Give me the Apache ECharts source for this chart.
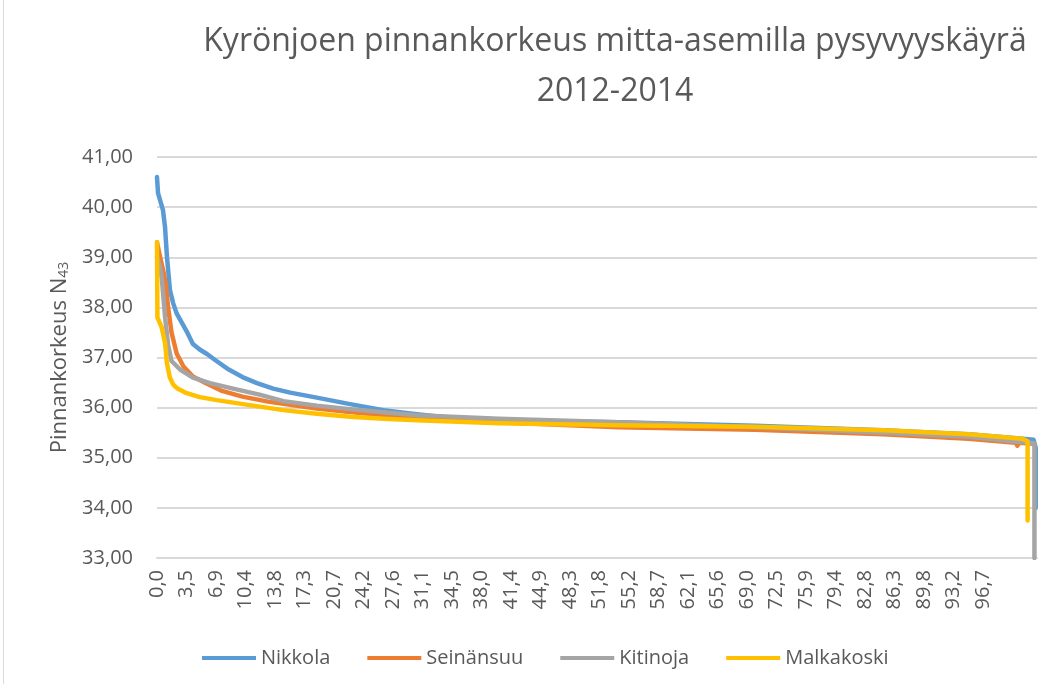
<!DOCTYPE html>
<html>
<head>
<meta charset="utf-8">
<script src="https://cdn.jsdelivr.net/npm/echarts@6/dist/echarts.min.js"></script>
<style>
  html, body { margin: 0; padding: 0; background: #fff; }
  #chart { width: 1054px; height: 684px; }
</style>
</head>
<body>
<div id="chart"></div>
<script>
// pysyvyys-% ja pinnankorkeus (N43), luettu kuvasta
const nikkola = [
  [0, 40.6], [0.12, 40.28], [0.7, 39.94], [0.94, 39.6], [1.17, 39.0], [1.52, 38.34],
  [1.9, 38.08], [2.3, 37.88], [2.95, 37.68], [3.6, 37.48], [4.2, 37.27], [5, 37.16],
  [5.85, 37.07], [6.8, 36.95], [8.4, 36.76], [10, 36.61], [11.7, 36.49], [13.6, 36.38],
  [15.6, 36.3], [18.7, 36.2], [22.6, 36.07], [26.5, 35.95], [30.4, 35.87], [34.3, 35.8],
  [40, 35.75], [54, 35.71], [70, 35.64], [85, 35.55], [95, 35.47], [101.3, 35.38],
  [102.6, 35.36], [102.85, 35.2], [102.85, 34.0]
];
const seinansuu = [
  [0, 39.3], [0.3, 39.05], [0.7, 38.75], [1.0, 38.5], [1.3, 38.0], [1.7, 37.5],
  [2.3, 37.08], [3.1, 36.82], [4.2, 36.62], [5.8, 36.48], [7.5, 36.34], [10, 36.22],
  [13, 36.12], [15, 36.07], [18.7, 35.98], [22.6, 35.91], [26.5, 35.85], [30.4, 35.79],
  [40, 35.71], [54, 35.61], [70, 35.56], [85, 35.47], [95, 35.38], [100.5, 35.3],
  [100.7, 35.24], [100.9, 35.3], [102.6, 35.28]
];
const kitinoja = [
  [0, 39.0], [0.3, 38.85], [0.55, 38.6], [0.95, 37.8], [1.3, 37.25], [1.7, 36.93],
  [2.7, 36.76], [4.2, 36.6], [6.2, 36.49], [8.9, 36.38], [12, 36.26], [14.8, 36.13],
  [18.7, 36.04], [22.6, 35.97], [26.5, 35.91], [30.4, 35.85], [40, 35.78], [54, 35.71],
  [70, 35.61], [85, 35.5], [95, 35.42], [101.3, 35.31], [102.7, 35.29], [102.7, 33.0]
];
const malkakoski = [
  [0, 39.3], [0.05, 37.8], [0.55, 37.6], [0.95, 37.28], [1.15, 36.9], [1.5, 36.6],
  [1.9, 36.46], [2.4, 36.38], [3.3, 36.3], [5, 36.21], [7, 36.15], [9.7, 36.08],
  [12, 36.02], [14.8, 35.95], [18.7, 35.88], [22.6, 35.82], [26.5, 35.78], [30.4, 35.75],
  [40, 35.69], [54, 35.65], [70, 35.62], [85, 35.55], [95, 35.47], [101.3, 35.38],
  [101.9, 35.33], [101.9, 33.75]
];

const seriesNames = ['Nikkola', 'Seinänsuu', 'Kitinoja', 'Malkakoski'];
const seriesColors = ['#5B9BD5', '#ED7D31', '#A5A5A5', '#FFC000'];

const xTicks = ['0,0', '3,5', '6,9', '10,4', '13,8', '17,3', '20,7', '24,2', '27,6', '31,1',
  '34,5', '38,0', '41,4', '44,9', '48,3', '51,8', '55,2', '58,7', '62,1', '65,6', '69,0',
  '72,5', '75,9', '79,4', '82,8', '86,3', '89,8', '93,2', '96,7'];
const yTicks = ['33,00', '34,00', '35,00', '36,00', '37,00', '38,00', '39,00', '40,00', '41,00'];

const xStep = 96.7 / 28;
const font = 'Open Sans';
const textColor = '#595959';

const chart = echarts.init(document.getElementById('chart'));

chart.setOption({
  animation: false,
  color: seriesColors,
  graphic: [
    {
      type: 'text',
      x: 615, y: 26,
      style: { text: 'Kyrönjoen pinnankorkeus mitta-asemilla pysyvyyskäyrä', fill: textColor,
        font: '32px "Open Sans"', textAlign: 'center' }
    },
    {
      type: 'text',
      x: 615, y: 76,
      style: { text: '2012-2014', fill: textColor, font: '32px "Open Sans"', textAlign: 'center' }
    },
    { type: 'line', shape: { x1: 3.5, y1: 0, x2: 3.5, y2: 684 }, style: { stroke: '#d9d9d9', lineWidth: 1 } }
  ],
  legend: {
    data: seriesNames,
    left: 197,
    top: 643,
    icon: 'rect',
    itemWidth: 54,
    itemHeight: 4,
    itemGap: 37,
    textStyle: { fontFamily: font, fontSize: 20, color: textColor }
  },
  grid: { left: 157, right: 17, top: 157, bottom: 126 },
  xAxis: {
    type: 'value',
    min: 0,
    max: 103,
    interval: xStep,
    axisLine: { show: true, lineStyle: { color: '#d9d9d9', width: 2 } },
    axisTick: { show: false },
    splitLine: { show: false },
    axisLabel: {
      rotate: 90,
      margin: 12,
      showMaxLabel: false,
      fontFamily: font,
      fontSize: 20,
      color: textColor,
      formatter: function (v) { return xTicks[Math.round(v / xStep)] || ''; }
    }
  },
  yAxis: {
    type: 'value',
    min: 33,
    max: 41,
    interval: 1,
    name: '{a|Pinnankorkeus N}{s|43}',
    nameLocation: 'middle',
    nameRotate: 90,
    nameGap: 86,
    nameTextStyle: {
      color: textColor,
      fontFamily: font,
      rich: {
        a: { fontFamily: font, fontSize: 22, color: textColor },
        s: { fontFamily: font, fontSize: 14, color: textColor, verticalAlign: 'bottom' }
      }
    },
    axisLine: { show: false },
    axisTick: { show: false },
    splitLine: { lineStyle: { color: '#d9d9d9', width: 2 } },
    axisLabel: {
      margin: 24,
      fontFamily: font,
      fontSize: 20,
      color: textColor,
      formatter: function (v) { return yTicks[Math.round(v - 33)]; }
    }
  },
  series: [nikkola, seinansuu, kitinoja, malkakoski].map(function (d, i) {
    return {
      name: seriesNames[i],
      type: 'line',
      data: d,
      symbol: 'none',
      lineStyle: { width: 4.5, cap: 'round', join: 'round' }
    };
  })
});
</script>
</body>
</html>
